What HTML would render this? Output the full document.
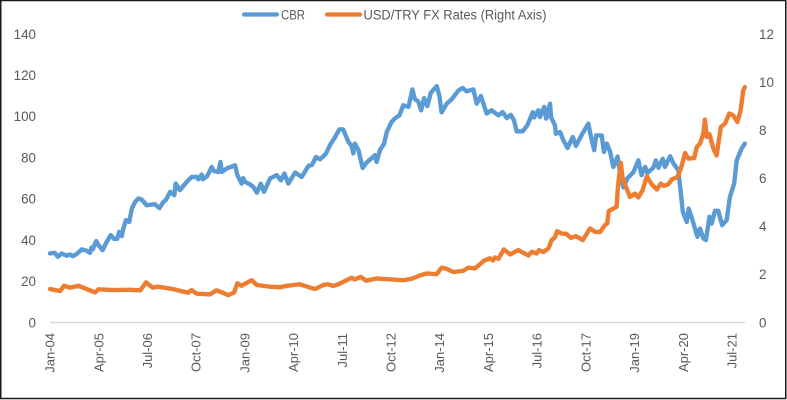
<!DOCTYPE html>
<html>
<head>
<meta charset="utf-8">
<title>CBR vs USD/TRY</title>
<style>
html,body{margin:0;padding:0;background:#fff;}
#chart{display:block;width:787px;height:400px;}
text{font-family:"Liberation Sans",sans-serif;fill:#595959;}
</style>
</head>
<body>
<svg id="chart" width="787" height="400" viewBox="0 0 787 400" xmlns="http://www.w3.org/2000/svg">
<rect x="0.75" y="0.5" width="785" height="398" fill="#fff" stroke="#1a1a1a" stroke-width="1.5"/>
<line x1="50" x2="745" y1="322.5" y2="322.5" stroke="#d9d9d9" stroke-width="1.5"/>
<g id="labels"></g>
<g id="series"></g>
<g>
<line x1="244" x2="277" y1="14.5" y2="14.5" stroke="#5b9bd5" stroke-width="4.2" stroke-linecap="round"/>
<text x="281" y="19.5" font-size="13.4" textLength="24" lengthAdjust="spacingAndGlyphs">CBR</text>
<line x1="327" x2="360" y1="14.5" y2="14.5" stroke="#ed7d31" stroke-width="4.2" stroke-linecap="round"/>
<text x="363.5" y="19.5" font-size="13.4" textLength="183" lengthAdjust="spacingAndGlyphs">USD/TRY FX Rates (Right Axis)</text>
</g>
</svg>
<script>
var leftTicks = [0, 20, 40, 60, 80, 100, 120, 140];
var rightTicks = [0, 2, 4, 6, 8, 10, 12];
var categoryLabels = ["Jan-04","Apr-05","Jul-06","Oct-07","Jan-09","Apr-10","Jul-11","Oct-12","Jan-14","Apr-15","Jul-16","Oct-17","Jan-19","Apr-20","Jul-21"];
var categoryMonths = [0,15,30,45,60,75,90,105,120,135,150,165,180,195,210];

var cbrMonths = [0,1.5,2.4,3.6,5.1,6.2,7,8.2,9.8,11.3,12.3,12.8,13.2,14.2,15.2,16.2,17.2,18.7,19.7,20.7,21.3,22.1,22.6,23.4,24.4,25.2,26.2,27.2,28.2,29.8,32.3,33.7,34.9,35.7,37,38.3,38.7,40,42.1,43.6,45.2,45.7,46.7,47.1,48.4,49.8,50.5,51.8,52.5,52.9,54.4,57,57.7,59,59.5,60.1,61.6,62.6,63.7,64.9,65.9,67.8,69.8,71.1,72.2,73.4,75.5,77.5,79.6,80.7,81.9,83.2,85,86.2,87.8,89.1,90.3,91.9,92.9,93.4,93.9,95,96.3,97.5,99.1,100.1,100.6,101.6,102.9,103.7,105.2,106.3,107.6,108.8,110.4,111.6,112.4,113.4,114.3,115.2,116.2,117.3,119.1,119.9,120.6,122.2,123.7,125.8,127.1,128.3,130.4,131.4,132.7,134.5,136,138.1,139.4,140.7,141.9,142.9,143.7,145.6,147,148.7,149.1,150.4,150.9,152.2,152.8,154,154.3,155.5,155.8,157.1,158.1,159.4,161,162,163.8,165.8,166.5,167.6,168.2,169.9,170.6,171.5,172.5,173.5,174.8,175.8,176.6,177.8,179.7,181.2,182.2,183.3,184,185.8,186.6,187.4,188.7,189.4,191,192,193.5,194.3,194.9,196.1,196.7,197.7,199.4,200.2,201.2,202,203.1,203.8,204.8,205.8,207,208.4,209.4,210.7,211.5,213,214];
var cbrValues = [33.5,33.8,31.9,33.5,32.4,33,32.2,33.2,35.5,34.8,33.8,36.4,35.5,39.5,37,35.1,38.4,42.4,40.6,40.6,44,41.9,45.6,49.7,48.8,55.3,58.5,60.2,59.7,56.9,57.4,55.5,58.5,59.5,63.4,61.8,67.4,64.2,68.2,70.6,70.6,69.5,71.8,69.5,71,75.5,73.5,73,77.9,73,74.7,76.3,71.5,67.4,70,68.2,67,65.8,63,67.4,63.4,69.9,71.5,69,72.3,67.4,72.8,70.6,76,76.5,80.3,79.2,82,86,90,93.7,93.7,87.6,85.7,82,86.8,83.6,75,77.6,79.8,81.2,77.9,83.6,86.8,92.4,97.3,99.2,100.5,105.4,104.6,113.1,108.3,107.3,103,108.9,105,111.5,114.7,110.2,102,106.2,108.3,112.6,113.8,112.2,113.1,106.2,109.9,101.4,103,100.5,102.1,99.2,100.8,98.1,92.8,92.8,95.7,102.1,99.5,103,99.7,104.6,98.9,106.2,99.7,95.7,91.6,92.4,88.4,84.7,90,85.7,91.2,96.5,90.8,83.6,90.8,90.8,82.8,86.8,82.8,75.5,80.5,69.8,65.5,69.9,73,78.7,71.5,75.5,72.6,75.1,78.7,75.1,79.5,75.5,80.7,77.2,73.9,62.6,53.7,48.8,55.3,50.5,41.6,45.6,40.8,40,51.3,48,54.2,54.2,47.2,49.7,60.9,67.4,78.7,84.4,86.8];

var fxMonths = [0,3.1,4.3,6.2,8.7,13.9,14.9,19.5,24.6,27.8,29.6,31.6,33.3,37.9,42.5,43.6,45.2,49.3,51.3,54.9,56.7,57.7,59,62.1,63.7,67.8,70.8,73.3,76.8,79,81.6,84.2,85.6,87.2,88.8,90.3,92.9,93.9,95.7,97.3,100.6,108.8,111.4,114,116,119.1,120.6,122,124.2,127.3,128.8,130.9,133.7,135.5,136.4,137.1,138.1,139.8,141.7,144.2,147.3,148.4,149.9,150.6,151.9,153.5,154.5,155.5,156.2,157.6,159,160.4,162,164.1,166.3,167.9,169.4,170.9,171.6,172.1,174.5,174.9,175.8,176.3,177.4,178.6,180.2,181.2,182.5,183.8,185.3,186.9,188.1,189,190.4,191.5,193.2,194.3,195.6,196.6,198.4,199.2,200.2,201.2,201.7,202.3,203.1,204.3,205.3,206.6,207.9,209.2,210.4,211.7,212.7,213.5,214];
var fxValues = [1.39,1.31,1.53,1.45,1.53,1.25,1.38,1.35,1.36,1.34,1.67,1.45,1.49,1.39,1.24,1.35,1.2,1.17,1.34,1.14,1.25,1.63,1.53,1.76,1.56,1.49,1.47,1.53,1.59,1.5,1.39,1.56,1.59,1.52,1.59,1.69,1.86,1.79,1.9,1.74,1.83,1.76,1.82,1.96,2.04,2.01,2.28,2.24,2.1,2.15,2.28,2.25,2.57,2.67,2.58,2.71,2.65,3.04,2.83,3.01,2.79,2.94,2.87,3.01,2.93,3.08,3.43,3.54,3.8,3.7,3.69,3.52,3.59,3.43,3.91,3.77,3.76,4.05,4.12,4.64,4.81,5.64,6.64,6.05,5.64,5.22,5.36,5.2,5.5,6.08,5.75,5.53,5.78,5.68,5.75,5.95,6.05,6.4,7.05,6.82,6.84,7.3,7.44,7.86,8.44,7.72,7.83,7.23,6.95,8.13,8.27,8.69,8.62,8.34,8.82,9.65,9.79];

var SVGNS = 'http://www.w3.org/2000/svg';
function xScale(month) { return 50 + month * 3.247; }
function yLeft(v) { return 322.5 - v * (288.5 / 140); }
function yRight(v) { return 322.5 - v * (288.5 / 12); }

var labelsGroup = document.getElementById('labels');
var seriesGroup = document.getElementById('series');

leftTicks.forEach(function (t) {
  var el = document.createElementNS(SVGNS, 'text');
  
  
  el.setAttribute('x', 36);
  el.setAttribute('y', yLeft(t) + 4.8);
  el.setAttribute('text-anchor', 'end');
  el.setAttribute('font-size', '13.4');
  el.textContent = t;
  labelsGroup.appendChild(el);
});

rightTicks.forEach(function (t) {
  var el = document.createElementNS(SVGNS, 'text');
  
  
  el.setAttribute('x', 759);
  el.setAttribute('y', yRight(t) + 4.8);
  el.setAttribute('font-size', '13.4');
  el.textContent = t;
  labelsGroup.appendChild(el);
});

categoryLabels.forEach(function (c, i) {
  var el = document.createElementNS(SVGNS, 'text');
  var x = xScale(categoryMonths[i]) + 4.6;
  
  
  el.setAttribute('x', x);
  el.setAttribute('y', 333);
  el.setAttribute('text-anchor', 'end');
  el.setAttribute('font-size', '13');
  el.setAttribute('transform', 'rotate(-90 ' + x + ' 333)');
  el.textContent = c;
  labelsGroup.appendChild(el);
});

function pathFrom(months, values, yFn) {
  return months.map(function (m, i) {
    return (i ? 'L' : 'M') + xScale(m).toFixed(2) + ' ' + yFn(values[i]).toFixed(2);
  }).join(' ');
}

var cbrLine = document.createElementNS(SVGNS, 'path');


cbrLine.setAttribute('d', pathFrom(cbrMonths, cbrValues, yLeft));
cbrLine.setAttribute('fill', 'none');
cbrLine.setAttribute('stroke', '#5b9bd5');
cbrLine.setAttribute('stroke-width', '4.4');
cbrLine.setAttribute('stroke-linejoin', 'round');
cbrLine.setAttribute('stroke-linecap', 'round');
seriesGroup.appendChild(cbrLine);

var fxLine = document.createElementNS(SVGNS, 'path');


fxLine.setAttribute('d', pathFrom(fxMonths, fxValues, yRight));
fxLine.setAttribute('fill', 'none');
fxLine.setAttribute('stroke', '#ed7d31');
fxLine.setAttribute('stroke-width', '4.4');
fxLine.setAttribute('stroke-linejoin', 'round');
fxLine.setAttribute('stroke-linecap', 'round');
seriesGroup.appendChild(fxLine);
</script>
</body>
</html>
